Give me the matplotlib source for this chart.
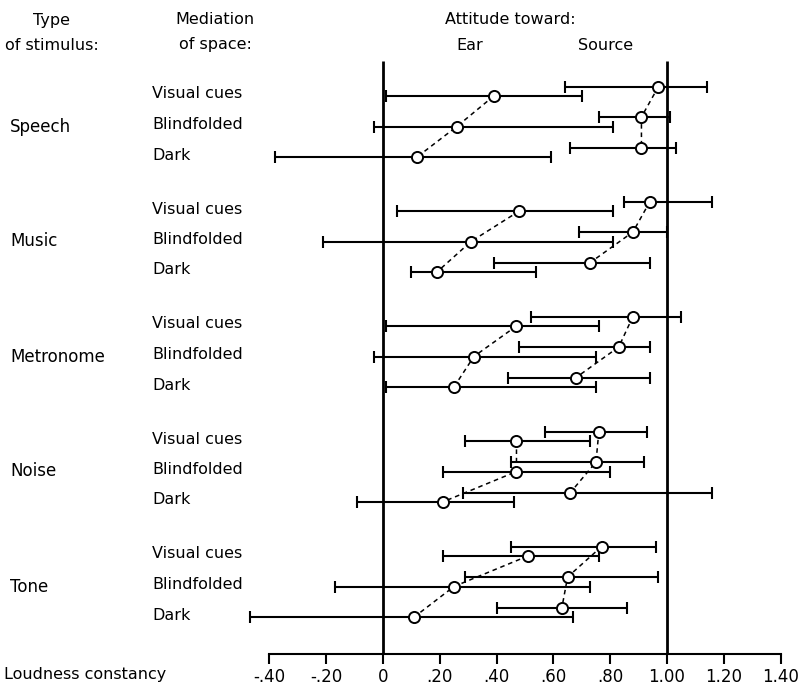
import numpy as np
import matplotlib
matplotlib.use("Agg")
import matplotlib.pyplot as plt

# Stimulus groups and mediation conditions (top to bottom)
stimuli = ["Speech", "Music", "Metronome", "Noise", "Tone"]
conditions = ["Visual cues", "Blindfolded", "Dark"]

# Loudness constancy, attitude toward ear (mean, low end, high end)
ear_mean = [0.39, 0.26, 0.12, 0.48, 0.31, 0.19, 0.47, 0.32, 0.25,
            0.47, 0.47, 0.21, 0.51, 0.25, 0.11]
ear_low = [0.01, -0.03, -0.38, 0.05, -0.21, 0.10, 0.01, -0.03, 0.01,
           0.29, 0.21, -0.09, 0.21, -0.17, -0.47]
ear_high = [0.70, 0.81, 0.59, 0.81, 0.81, 0.54, 0.76, 0.75, 0.75,
            0.73, 0.80, 0.46, 0.76, 0.73, 0.67]

# Attitude toward source
src_mean = [0.97, 0.91, 0.91, 0.94, 0.88, 0.73, 0.88, 0.83, 0.68,
            0.76, 0.75, 0.66, 0.77, 0.65, 0.63]
src_low = [0.64, 0.76, 0.66, 0.85, 0.69, 0.39, 0.52, 0.48, 0.44,
           0.57, 0.45, 0.28, 0.45, 0.29, 0.40]
src_high = [1.14, 1.01, 1.03, 1.16, 1.00, 0.94, 1.05, 0.94, 0.94,
            0.93, 0.92, 1.16, 0.96, 0.97, 0.86]

ticks = [-0.4, -0.2, 0, 0.2, 0.4, 0.6, 0.8, 1.0, 1.2, 1.4]
tick_labels = ["-.40", "-.20", "0", ".20", ".40", ".60", ".80", "1.00", "1.20", "1.40"]

W, H = 804, 688
plt.rcParams['font.family'] = ['DejaVu Sans']
fig = plt.figure(figsize=(W / 100, H / 100), dpi=100)

# axes spans the figure width; y measured in pixel rows from the top
axis_y = 654
ax = fig.add_axes([0, (H - axis_y) / H, 1, axis_y / H])
x0, scale = 383, 284.0
ax.set_xlim(-x0 / scale, (W - x0) / scale)
ax.set_ylim(axis_y, 0)

# row positions
ear_y = []
for g in range(len(stimuli)):
    for r in range(len(conditions)):
        ear_y.append(96 + g * 115 + r * 30.5)
ear_y = np.array(ear_y)
src_y = ear_y - 9.5

def bars(mean, low, high, ys):
    mean, low, high = np.array(mean), np.array(low), np.array(high)
    ax.errorbar(mean, ys, xerr=[mean - low, high - mean], fmt='none',
                ecolor='black', elinewidth=1.5, capsize=4, capthick=1.5, zorder=2)
    for g in range(len(stimuli)):
        s = slice(g * 3, g * 3 + 3)
        ax.plot(mean[s], ys[s], ls=(0, (3, 2.5)), color='black', lw=1.1, zorder=3)
    ax.plot(mean, ys, 'o', ms=8, mfc='white', mec='black', mew=1.4, zorder=4)

bars(ear_mean, ear_low, ear_high, ear_y)
bars(src_mean, src_low, src_high, src_y)

# reference lines at 0 and 1.00
ax.vlines([0, 1.0], 61, axis_y, color='black', lw=2.0, zorder=1)

for side in ['top', 'right', 'left']:
    ax.spines[side].set_visible(False)
ax.spines['bottom'].set_bounds(-0.4, 1.4)
ax.spines['bottom'].set_linewidth(1.5)
ax.set_yticks([])
ax.set_xticks(ticks)
ax.set_xticklabels(tick_labels, fontsize=12)
ax.tick_params(axis='x', direction='out', length=7, width=1.5, pad=3)

def ftext(x, y, s, ha='left', size=11.5):
    fig.text(x / W, 1 - y / H, s, ha=ha, va='center', fontsize=size)

ftext(52, 20, "Type", ha='center')
ftext(52, 45, "of stimulus:", ha='center')
ftext(215, 20, "Mediation", ha='center')
ftext(215, 45, "of space:", ha='center')
ftext(510, 20, "Attitude toward:", ha='center')
ftext(470, 46, "Ear", ha='center')
ftext(606, 46, "Source", ha='center')
ftext(4, 675, "Loudness constancy")

for g, name in enumerate(stimuli):
    ftext(10, ear_y[g * 3 + 1], name, size=12)
    for r, cond in enumerate(conditions):
        ftext(152, ear_y[g * 3 + r] - 2, cond)

fig.savefig("out.png", dpi=100)
